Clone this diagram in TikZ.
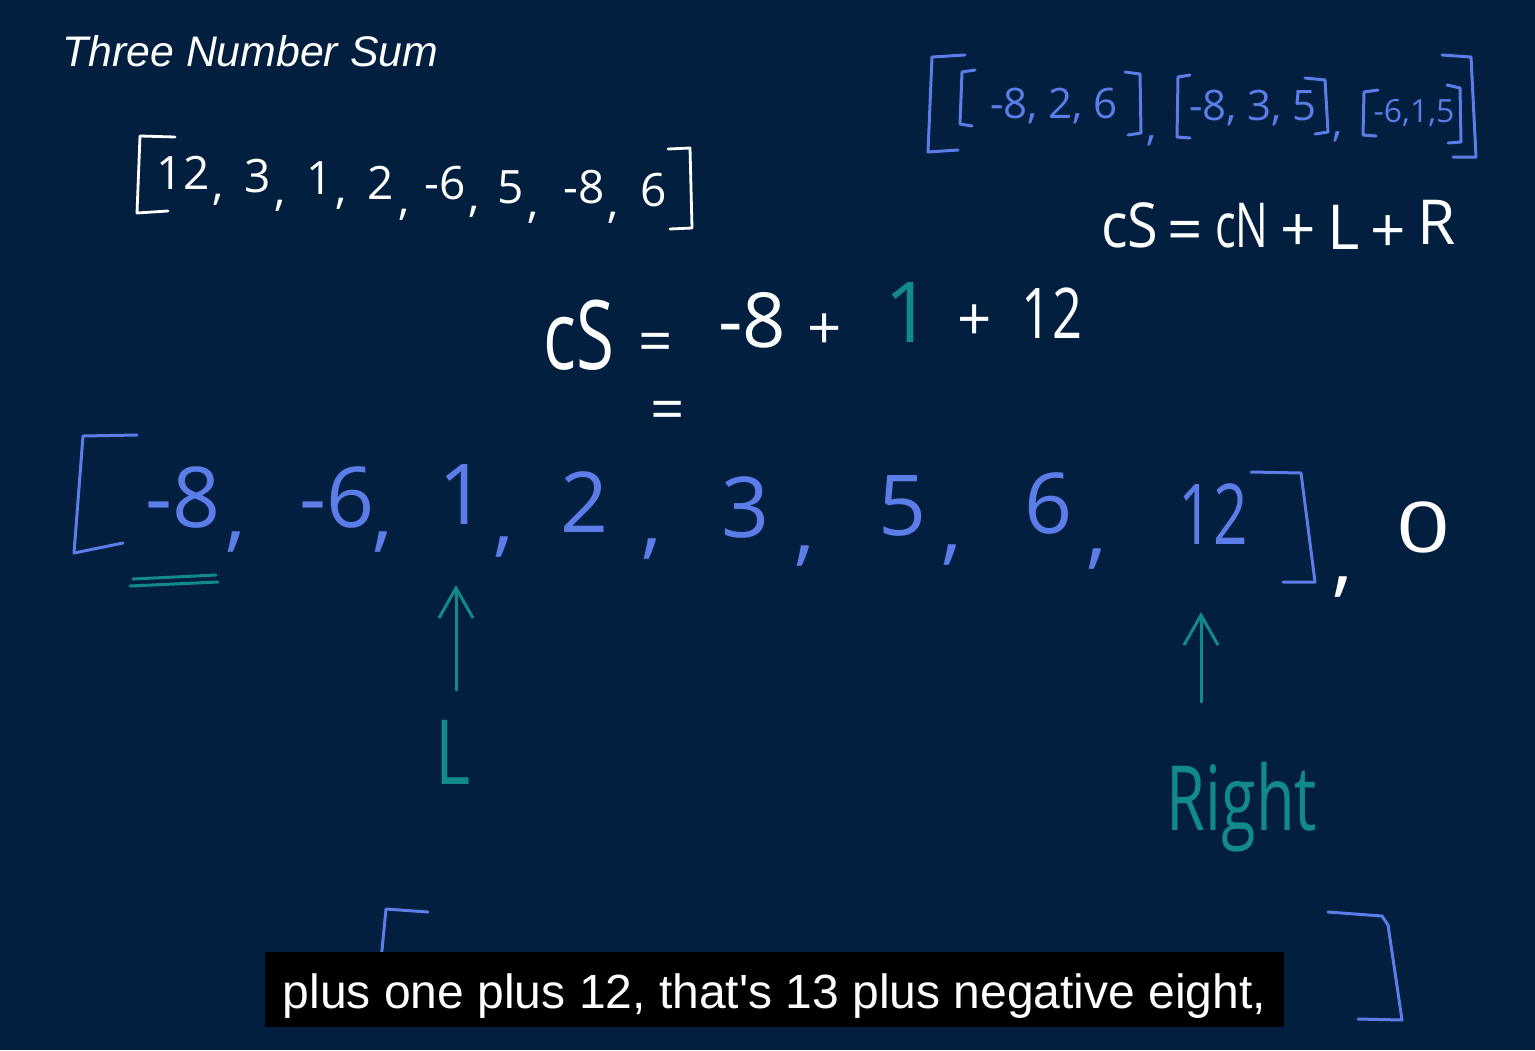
\documentclass[tikz,border=0pt]{standalone}
\usepackage{fontspec}
\usepackage{graphicx}
\setmainfont{Liberation Sans}
\newfontfamily\capfont{Liberation Sans}
\newfontfamily\hand{Open Sans}
\usetikzlibrary{arrows.meta}
\definecolor{bg}{HTML}{021F40}
\definecolor{hblue}{HTML}{5C7CE8}
\definecolor{hteal}{HTML}{12898A}
\newcommand\hs[1]{\hand\fontsize{#1}{#1}\selectfont}
\tikzset{
  wline/.style={draw=white, line width=1.4pt, line cap=round, line join=round},
  bline/.style={draw=hblue, line width=1.5pt, line cap=round, line join=round},
  tline/.style={draw=hteal, line width=1.5pt, line cap=round, line join=round},
  tarrow/.style={tline, -{Straight Barb[length=15pt,width=17pt,line width=1.5pt]}},
  tl/.style={text=white, inner sep=0pt, font=\hs{23}},
  tr/.style={text=hblue, inner sep=0pt, font=\hs{21}, anchor=base},
  trs/.style={text=hblue, inner sep=0pt, font=\hs{16}, anchor=base},
  cn/.style={text=white, inner sep=0pt, font=\hs{31}},
  eq/.style={text=white, inner sep=0pt, font=\hs{38}},
  eqs/.style={text=white, inner sep=0pt, font=\hs{30}},
  sa/.style={text=hblue, inner sep=0pt, font=\hs{42}},
  tt/.style={text=hteal, inner sep=0pt, font=\hs{45}},
}
\begin{document}
\begin{tikzpicture}[x=0.5pt,y=-0.5pt]
\fill[bg] (0,0) rectangle (1535,1050);
\useasboundingbox (0,0) rectangle (1535,1050);

% title
\node[text=white, inner sep=0pt, anchor=base west, font=\capfont\fontsize{21.4}{24}\selectfont\itshape] (title) at (62,66) {Three Number Sum};

% top-left array
\draw[wline] (175,137) -- (140,136) -- (137,213) -- (168,211);
\draw[wline] (668,149) -- (690,148) -- (692,228) -- (670,229);
\node[tl] (a1) at (183,173) {12};
\node[tl] (a2) at (258,176) {3};
\node[tl] (a3) at (320,178) {1};
\node[tl] (a4) at (381,183) {2};
\node[tl] (a5) at (445,183) {-6};
\node[tl] (a6) at (511,187) {5};
\node[tl] (a7) at (584,187) {-8};
\node[tl] (a8) at (654,190) {6};
\node[tl] (ac1) at (218,200) {,};
\node[tl] (ac2) at (280,206) {,};
\node[tl] (ac3) at (341,204) {,};
\node[tl] (ac4) at (404,215) {,};
\node[tl] (ac5) at (474,212) {,};
\node[tl] (ac6) at (533,218) {,};
\node[tl] (ac7) at (613,218) {,};

% top-right result
\draw[bline] (965,55) -- (932,57) -- (928,152) -- (958,150);
\draw[bline] (1442,55) -- (1471,57) -- (1476,157) -- (1453,157);
\draw[bline] (975,70) -- (962,72) -- (960,124) -- (972,126);
\draw[bline] (1125,72) -- (1140,74) -- (1141,133) -- (1128,135);
\draw[bline] (1190,75) -- (1178,77) -- (1177,137) -- (1190,138);
\draw[bline] (1305,78) -- (1325,80) -- (1328,132) -- (1315,134);
\draw[bline] (1378,90) -- (1364,92) -- (1363,135) -- (1376,136);
\draw[bline] (1447,85) -- (1460,88) -- (1461,142) -- (1448,143);
\node[tr] (g1) at (1054,118) {-8, 2, 6};
\node[tr] (g2) at (1253,120) {-8, 3, 5};
\node[trs] (g3) at (1414,122) {-6,1,5};
\node[tr] (gc1) at (1152,140) {,};
\node[tr] (gc2) at (1338,136) {,};

% cS = cN + L + R
\node[cn] (c1) at (1130,225) {\scalebox{0.9}[1]{cS}};
\node[cn] (c2) at (1185,236) {=};
\node[cn] (c3) at (1242,226) {\scalebox{0.7}[1]{cN}};
\node[cn] (c4) at (1298,233) {+};
\node[cn] (c5) at (1344,227) {L};
\node[cn] (c6) at (1388,234) {+};
\node[cn] (c7) at (1437,222) {R};

% cS = -8 + 1 + 12
\node[eq, font=\hs{48}] (e1) at (579,335) {\scalebox{0.72}[1]{cS}};
\node[eqs] (e2) at (656,348) {=};
\node[eq] (e3) at (752,320) {-8};
\node[eqs] (e4) at (825,332) {+};
\node[eq, text=hteal, font=\hs{42}] (e5) at (909,313) {1};
\node[eqs] (e6) at (975,323) {+};
\node[eq, font=\hs{35}] (e7) at (1052,313) {\scalebox{0.75}[1]{12}};
\node[eqs] (e8) at (668,416) {=};

% sorted array
\draw[bline] (137,435) -- (83,436) -- (74,553) -- (123,543);
\draw[bline] (1251,472) -- (1301,473) -- (1315,582) -- (1283,582);
\node[sa] (s1) at (183,497) {-8};
\node[sa] (s2) at (337,497) {-6};
\node[sa] (s3) at (463,495) {1};
\node[sa] (s4) at (585,502) {2};
\node[sa] (s5) at (746,507) {3};
\node[sa] (s6) at (903,506) {5};
\node[sa] (s7) at (1048,503) {6};
\node[sa] (s8) at (1213,514) {\scalebox{0.72}[1]{12}};
\node[sa] (sc1) at (236,542) {,};
\node[sa] (sc2) at (383,542) {,};
\node[sa] (sc3) at (504,547) {,};
\node[sa] (sc4) at (652,549) {,};
\node[sa] (sc5) at (805,556) {,};
\node[sa] (sc6) at (952,555) {,};
\node[sa] (sc7) at (1097,559) {,};
\node[sa, text=white] (wc) at (1343,587) {,};
\node[text=white, inner sep=0pt, font=\hs{35}] (zero) at (1423,527) {\scalebox{1.35}[1]{0}};

% teal underline
\draw[tline] (130,586) -- (218,582);
\draw[tline] (133,579) -- (216,575);

% pointers
\node[tt] (Lbl) at (453,752) {\scalebox{0.75}[1]{L}};
\node[tt, anchor=base] (Rbl) at (1242,830) {\scalebox{0.7}[1]{Right}};
\coordinate (Lfoot) at (456,690);
\coordinate (Lhead) at (456,585);
\coordinate (Rfoot) at (1201,702);
\coordinate (Rhead) at (1201,612);
\draw[tarrow] (Lfoot) -- (Lhead);
\draw[tarrow] (Rfoot) -- (Rhead);

% bottom brackets
\draw[bline] (428,912) -- (386,909) -- (381,960);
\draw[bline] (1328,912) -- (1382,916) -- (1388,925) -- (1402,1020) -- (1358,1019);

% caption
\node[fill=black, text=white, inner sep=0pt, minimum width=509.5pt, minimum height=37.5pt,
      text height=20pt, text depth=1.5pt, font=\capfont\fontsize{24}{28}\selectfont] (cap) at (774.5,989.5)
      {plus one plus 12, that's 13 plus negative eight,};
\end{tikzpicture}
\end{document}
